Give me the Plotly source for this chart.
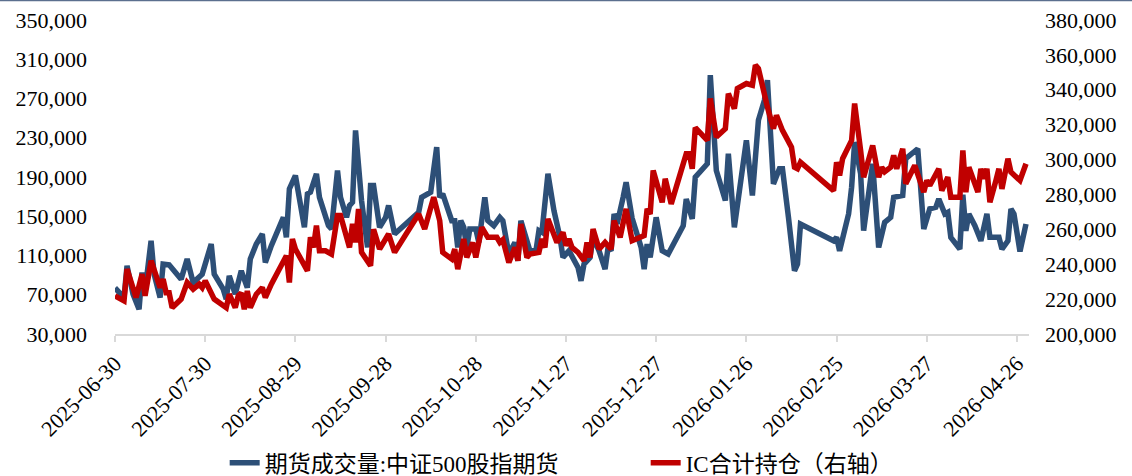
import plotly.graph_objects as go

# 期货成交量:中证500股指期货 (left axis)
vol_dates = [
    "2025-06-30", "2025-07-03", "2025-07-04", "2025-07-06", "2025-07-08", "2025-07-09",
    "2025-07-10", "2025-07-12", "2025-07-13", "2025-07-15", "2025-07-16", "2025-07-18",
    "2025-07-22", "2025-07-24", "2025-07-26", "2025-07-29", "2025-08-01", "2025-08-02",
    "2025-08-05", "2025-08-06", "2025-08-07", "2025-08-09", "2025-08-11", "2025-08-13",
    "2025-08-14", "2025-08-16", "2025-08-18", "2025-08-19", "2025-08-21", "2025-08-25",
    "2025-08-26", "2025-08-27", "2025-08-29", "2025-08-31", "2025-09-01", "2025-09-02",
    "2025-09-03", "2025-09-05", "2025-09-06", "2025-09-09", "2025-09-10", "2025-09-12",
    "2025-09-13", "2025-09-15", "2025-09-16", "2025-09-17", "2025-09-18", "2025-09-20",
    "2025-09-22", "2025-09-23", "2025-09-24", "2025-09-26", "2025-09-28", "2025-09-29",
    "2025-10-01", "2025-10-09", "2025-10-10", "2025-10-13", "2025-10-15", "2025-10-16",
    "2025-10-17", "2025-10-20", "2025-10-21", "2025-10-22", "2025-10-23", "2025-10-24",
    "2025-10-25", "2025-10-26", "2025-10-28", "2025-10-29", "2025-10-31", "2025-11-01",
    "2025-11-03", "2025-11-05", "2025-11-06", "2025-11-08", "2025-11-10", "2025-11-11",
    "2025-11-12", "2025-11-15", "2025-11-17", "2025-11-18", "2025-11-19", "2025-11-21",
    "2025-11-23", "2025-11-25", "2025-11-26", "2025-11-28", "2025-12-01", "2025-12-02",
    "2025-12-03", "2025-12-05", "2025-12-06", "2025-12-08", "2025-12-10", "2025-12-11",
    "2025-12-12", "2025-12-13", "2025-12-14", "2025-12-16", "2025-12-17", "2025-12-19",
    "2025-12-22", "2025-12-23", "2025-12-24", "2025-12-25", "2025-12-27", "2025-12-29",
    "2025-12-31", "2026-01-05", "2026-01-06", "2026-01-08", "2026-01-09", "2026-01-13",
    "2026-01-14", "2026-01-16", "2026-01-19", "2026-01-20", "2026-01-22", "2026-01-26",
    "2026-01-28", "2026-01-30", "2026-02-01", "2026-02-02", "2026-02-04", "2026-02-06",
    "2026-02-07", "2026-02-09", "2026-02-11", "2026-02-12", "2026-02-13", "2026-02-24",
    "2026-02-25", "2026-02-26", "2026-03-01", "2026-03-02", "2026-03-03", "2026-03-05",
    "2026-03-06", "2026-03-09", "2026-03-11", "2026-03-13", "2026-03-15", "2026-03-16",
    "2026-03-19", "2026-03-20", "2026-03-24", "2026-03-26", "2026-03-28", "2026-03-30",
    "2026-03-31", "2026-04-02", "2026-04-03", "2026-04-04", "2026-04-07", "2026-04-08",
    "2026-04-09", "2026-04-10", "2026-04-12", "2026-04-14", "2026-04-16", "2026-04-17",
    "2026-04-20", "2026-04-21", "2026-04-23", "2026-04-24", "2026-04-25", "2026-04-27",
    "2026-04-29",
]
vol_values = [
    77000, 67100, 99500, 70600, 55200, 92700,
    74000, 125000, 91000, 67100, 101200, 100500,
    85900, 106400, 82400, 91000, 121700, 91000,
    75700, 65500, 89300, 70600, 94400, 77300,
    106400, 121700, 131900, 102900, 120000, 148900,
    128500, 177900, 191500, 155700, 138700, 172800,
    174500, 193300, 169300, 140400, 137000, 196600,
    169300, 148900, 160900, 164300, 237500, 166000,
    118200, 181300, 181300, 138700, 148900, 160900,
    131900, 154000, 169300, 174500, 220500, 169300,
    172800, 145500, 145500, 118200, 145500, 138700,
    118200, 137000, 137000, 123300, 169300, 145500,
    140400, 148900, 145500, 111500, 123300, 104600,
    145500, 114800, 114800, 135300, 133600, 193300,
    155700, 128500, 108000, 114800, 97800, 84200,
    101200, 108000, 128500, 114800, 96100, 118200,
    114800, 152400, 142100, 169300, 184700, 148000,
    118200, 96100, 121700, 108000, 148900, 114800,
    111500, 140400, 167600, 147300, 189800, 203500,
    293800, 196600, 166000, 213700, 138700, 227300,
    171100, 247800, 268200, 288700, 183000, 198400,
    198400, 148900, 94400, 101200, 142100, 125000,
    128500, 114800, 152400, 179600, 225600, 193300,
    135300, 203500, 118200, 143800, 148900, 169300,
    171100, 208600, 218800, 137000, 157500, 159100,
    167600, 152400, 154000, 128500, 116600, 172000,
    135300, 152400, 140400, 125000, 152400, 128500,
    128500, 116600, 125000, 157500, 152400, 114100,
    142100,
]

# IC合计持仓 (right axis)
oi_dates = [
    "2025-06-30", "2025-07-03", "2025-07-04", "2025-07-07", "2025-07-09", "2025-07-10",
    "2025-07-12", "2025-07-14", "2025-07-15", "2025-07-16", "2025-07-17", "2025-07-18",
    "2025-07-19", "2025-07-22", "2025-07-24", "2025-07-26", "2025-07-28", "2025-07-29",
    "2025-07-30", "2025-08-02", "2025-08-06", "2025-08-07", "2025-08-09", "2025-08-10",
    "2025-08-11", "2025-08-12", "2025-08-13", "2025-08-14", "2025-08-16", "2025-08-18",
    "2025-08-19", "2025-08-21", "2025-08-26", "2025-08-27", "2025-08-28", "2025-08-29",
    "2025-09-02", "2025-09-03", "2025-09-04", "2025-09-05", "2025-09-06", "2025-09-08",
    "2025-09-10", "2025-09-12", "2025-09-13", "2025-09-16", "2025-09-17", "2025-09-18",
    "2025-09-19", "2025-09-20", "2025-09-23", "2025-09-24", "2025-09-26", "2025-09-29",
    "2025-10-01", "2025-10-09", "2025-10-11", "2025-10-14", "2025-10-16", "2025-10-17",
    "2025-10-20", "2025-10-21", "2025-10-22", "2025-10-24", "2025-10-25", "2025-10-27",
    "2025-10-28", "2025-10-30", "2025-11-01", "2025-11-04", "2025-11-05", "2025-11-06",
    "2025-11-08", "2025-11-10", "2025-11-11", "2025-11-12", "2025-11-14", "2025-11-15",
    "2025-11-18", "2025-11-19", "2025-11-20", "2025-11-21", "2025-11-24", "2025-11-26",
    "2025-11-27", "2025-11-28", "2025-11-29", "2025-12-01", "2025-12-03", "2025-12-04",
    "2025-12-05", "2025-12-06", "2025-12-08", "2025-12-10", "2025-12-12", "2025-12-13",
    "2025-12-15", "2025-12-17", "2025-12-19", "2025-12-23", "2025-12-24", "2025-12-25",
    "2025-12-26", "2025-12-29", "2025-12-30", "2026-01-01", "2026-01-06", "2026-01-07",
    "2026-01-08", "2026-01-09", "2026-01-13", "2026-01-14", "2026-01-16", "2026-01-19",
    "2026-01-20", "2026-01-22", "2026-01-23", "2026-01-26", "2026-01-28", "2026-01-29",
    "2026-01-30", "2026-02-02", "2026-02-04", "2026-02-05", "2026-02-07", "2026-02-10",
    "2026-02-11", "2026-02-12", "2026-02-13", "2026-02-24", "2026-02-25", "2026-02-26",
    "2026-02-27", "2026-03-02", "2026-03-03", "2026-03-05", "2026-03-06", "2026-03-09",
    "2026-03-11", "2026-03-12", "2026-03-13", "2026-03-15", "2026-03-16", "2026-03-17",
    "2026-03-19", "2026-03-20", "2026-03-23", "2026-03-26", "2026-03-27", "2026-03-28",
    "2026-03-31", "2026-04-01", "2026-04-03", "2026-04-04", "2026-04-07", "2026-04-08",
    "2026-04-09", "2026-04-10", "2026-04-13", "2026-04-14", "2026-04-15", "2026-04-16",
    "2026-04-17", "2026-04-19", "2026-04-20", "2026-04-21", "2026-04-23", "2026-04-24",
    "2026-04-27", "2026-04-29",
]
oi_values = [
    221900, 219000, 237200, 220900, 234300, 221900,
    242000, 230500, 226600, 231500, 223700, 223700,
    215100, 220000, 229500, 225700, 228600, 226600,
    230500, 220000, 215100, 222800, 215100, 221900,
    223500, 214200, 224700, 215100, 222800, 226600,
    220900, 228600, 244900, 229500, 254500, 248700,
    236200, 255400, 249600, 262100, 247700, 247700,
    245800, 267900, 267900, 249600, 263100, 252500,
    271700, 246800, 239100, 260000, 248700, 257300,
    246800, 268800, 260200, 278400, 265000, 246800,
    243000, 248700, 237200, 254500, 243900, 252500,
    243900, 261100, 255400, 255400, 252500, 254000,
    241000, 249600, 242000, 263100, 243900, 245800,
    246800, 254500, 249600, 266000, 252500, 258300,
    250600, 254500, 249600, 246800, 242000, 252500,
    243900, 260200, 248700, 252500, 248700, 265000,
    255400, 271700, 253500, 256400, 271700, 268800,
    293700, 275500, 289000, 274600, 303300, 303300,
    294700, 318300, 311000, 335000, 312900, 317700,
    337800, 329200, 340700, 343600, 342600, 354100,
    352200, 330100, 317700, 325400, 316700, 307100,
    295600, 294700, 298500, 282200, 298500, 290900,
    300500, 311000, 332100, 305200, 289900, 308100,
    289900, 295600, 293000, 295600, 302400, 294700,
    306200, 286100, 296600, 281300, 288000, 285100,
    294700, 282200, 289900, 278400, 278400, 305200,
    281300, 295600, 281300, 294700, 289000, 294700,
    275500, 288000, 294700, 283200, 300500, 292800,
    288000, 297600,
]

# 30-day spaced date ticks
tick_dates = [
    "2025-06-30", "2025-07-30", "2025-08-29", "2025-09-28", "2025-10-28", "2025-11-27",
    "2025-12-27", "2026-01-26", "2026-02-25", "2026-03-27", "2026-04-26",
]

vol_name = "期货成交量:中证500股指期货"
oi_name = "IC合计持仓（右轴）"

BLUE = "#2D4F77"
RED = "#C00000"
FONT = "Liberation Serif, 'Noto Sans CJK SC', serif"
FS = 22

fig = go.Figure()
fig.add_trace(go.Scatter(
    x=vol_dates, y=vol_values, name=vol_name, mode="lines",
    line=dict(color=BLUE, width=5.5), yaxis="y",
))
fig.add_trace(go.Scatter(
    x=oi_dates, y=oi_values, name=oi_name, mode="lines",
    line=dict(color=RED, width=5.5), yaxis="y2",
))

fig.update_layout(
    width=1132, height=476,
    margin=dict(l=115, r=103, t=20, b=142, autoexpand=False),
    paper_bgcolor="white", plot_bgcolor="white",
    font=dict(family=FONT, size=FS, color="black"),
    showlegend=True,
    legend=dict(
        orientation="h", x=0.12, y=-0.41, xanchor="left", yanchor="middle",
        entrywidth=376, entrywidthmode="pixels",
        font=dict(size=23, family=FONT), itemwidth=30,
        bgcolor="rgba(0,0,0,0)",
    ),
    xaxis=dict(
        type="date", range=["2025-06-30", "2026-04-30"],
        tickvals=tick_dates, ticktext=tick_dates, tickangle=-45,
        ticks="outside", ticklen=6, tickcolor="#D9D9D9", tickwidth=2,
        showline=True, linecolor="#D9D9D9", linewidth=2,
        showgrid=False, zeroline=False,
        tickfont=dict(size=FS, family=FONT),
    ),
    yaxis=dict(
        range=[30000, 350000], dtick=40000, tick0=30000, tickformat=",",
        showgrid=False, zeroline=False, showline=False,
        ticks="", ticklabelstandoff=27,
        tickfont=dict(size=FS, family=FONT),
    ),
    yaxis2=dict(
        range=[200000, 380000], dtick=20000, tick0=200000, tickformat=",",
        overlaying="y", side="right",
        showgrid=False, zeroline=False, showline=False,
        ticks="", ticklabelstandoff=15,
        tickfont=dict(size=FS, family=FONT),
    ),
    shapes=[dict(
        type="line", xref="paper", yref="paper",
        x0=-115 / 914, x1=1017 / 914, y0=1 + 19.5 / 314, y1=1 + 19.5 / 314,
        line=dict(color="#5B6F8E", width=1.5),
    )],
)

fig.write_html("out.html")
